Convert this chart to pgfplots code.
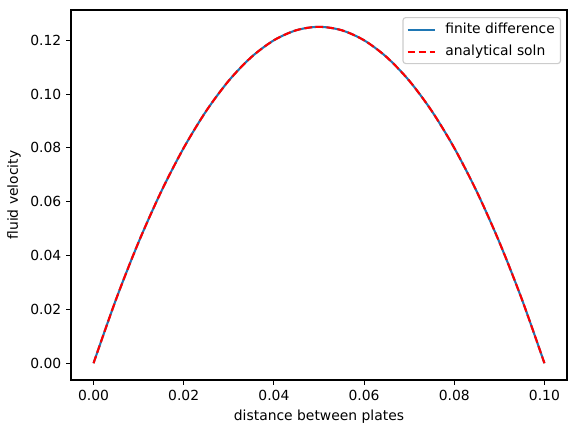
\documentclass[border=0pt]{standalone}
\usepackage{pgfplots}
\pgfplotsset{compat=1.18}
\usepackage{fontspec}
\setmainfont{DejaVu Sans}
\definecolor{tabblue}{RGB}{31,119,180}
\begin{document}
\begin{tikzpicture}
\begin{axis}[
  scale only axis,
  width=357.1pt, height=266.4pt,
  xmin=-0.005, xmax=0.105,
  ymin=-0.00625, ymax=0.13125,
  xtick={0,0.02,0.04,0.06,0.08,0.1},
  ytick={0,0.02,0.04,0.06,0.08,0.1,0.12},
  xticklabel style={/pgf/number format/.cd,fixed,fixed zerofill,precision=2},
  yticklabel style={/pgf/number format/.cd,fixed,fixed zerofill,precision=2},
  /pgf/number format/assume math mode=true,
  scaled ticks=false,
  tick align=outside,
  tick pos=left,
  major tick length=3.5pt,
  tick style={black, line width=0.8pt},
  axis line style={line width=0.8pt},
  ticklabel style={font=\fontsize{10}{12}\selectfont},
  xlabel={distance between plates},
  ylabel={fluid velocity},
  label style={font=\fontsize{10}{12}\selectfont},
  legend style={at={(0.988,0.981)}, anchor=north east, font=\fontsize{10}{12}\selectfont, draw=black!20, line width=0.8pt, rounded corners=2pt, inner xsep=2.5pt, inner ysep=1.65pt, row sep=1.8pt, column sep=5pt, nodes={inner xsep=1.5pt, inner ysep=2pt, text height=7.6pt, text depth=2.4pt}},
  legend cell align=left,
  legend image code/.code={\draw[#1] (0pt,0pt) -- (20pt,0pt);},
]
\addplot[tabblue, line width=1.5pt, smooth] coordinates {
(0,0) (0.005,0.02375) (0.01,0.045) (0.015,0.06375) (0.02,0.08) (0.025,0.09375)
(0.03,0.105) (0.035,0.11375) (0.04,0.12) (0.045,0.12375) (0.05,0.125)
(0.055,0.12375) (0.06,0.12) (0.065,0.11375) (0.07,0.105) (0.075,0.09375)
(0.08,0.08) (0.085,0.06375) (0.09,0.045) (0.095,0.02375) (0.1,0)
};
\addlegendentry{finite difference}
\addplot[red, line width=1.5pt, smooth, dash pattern=on 5.55pt off 2.4pt] coordinates {
(0,0) (0.005,0.02375) (0.01,0.045) (0.015,0.06375) (0.02,0.08) (0.025,0.09375)
(0.03,0.105) (0.035,0.11375) (0.04,0.12) (0.045,0.12375) (0.05,0.125)
(0.055,0.12375) (0.06,0.12) (0.065,0.11375) (0.07,0.105) (0.075,0.09375)
(0.08,0.08) (0.085,0.06375) (0.09,0.045) (0.095,0.02375) (0.1,0)
};
\addlegendentry{analytical soln}
\end{axis}
\pgfresetboundingbox
\path (current axis.south west) ++(-51.1pt,-38.2pt) coordinate (bba);
\path (current axis.north east) ++(6.5pt,7.2pt) coordinate (bbb);
\useasboundingbox (bba) rectangle (bbb);
\end{tikzpicture}
\end{document}
